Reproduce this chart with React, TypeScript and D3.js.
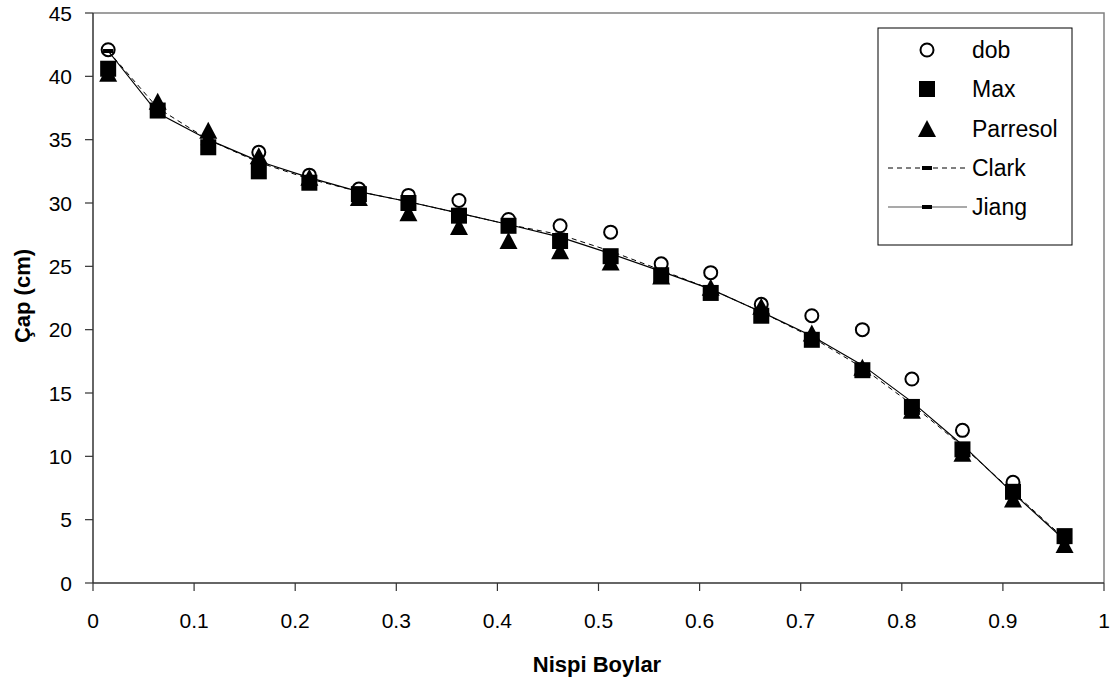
import React, { useEffect, useRef } from "react";
import * as d3 from "d3";

const xValues = [0.015, 0.064, 0.114, 0.164, 0.214, 0.263, 0.312, 0.362, 0.411, 0.462, 0.512, 0.562, 0.611, 0.661, 0.711, 0.761, 0.81, 0.86, 0.91, 0.961];
const dob = [42.1, 37.3, 34.6, 34.0, 32.2, 31.1, 30.6, 30.2, 28.7, 28.2, 27.7, 25.2, 24.5, 22.0, 21.1, 20.0, 16.1, 12.05, 7.95, 3.5];
const maxSeries = [40.6, 37.3, 34.4, 32.5, 31.6, 30.7, 30.0, 29.0, 28.2, 27.0, 25.8, 24.3, 22.9, 21.1, 19.2, 16.8, 13.9, 10.55, 7.2, 3.7];
const parresol = [40.2, 38.0, 35.7, 33.7, 32.0, 30.4, 29.2, 28.1, 27.0, 26.2, 25.3, 24.2, 23.3, 21.8, 19.7, 17.0, 13.6, 10.2, 6.6, 3.0];
const clark = [42.0, 37.5, 35.0, 33.2, 31.9, 30.9, 30.1, 29.2, 28.3, 27.5, 26.2, 24.7, 23.2, 21.4, 19.4, 17.0, 14.1, 10.8, 7.2, 3.5];
const jiang = [42.0, 37.1, 35.0, 33.3, 32.0, 30.9, 30.1, 29.2, 28.3, 27.3, 26.0, 24.6, 23.2, 21.4, 19.5, 17.2, 14.3, 10.9, 7.1, 3.4];
const xTicks = [0, 0.1, 0.2, 0.3, 0.4, 0.5, 0.6, 0.7, 0.8, 0.9, 1];
const yTicks = [0, 5, 10, 15, 20, 25, 30, 35, 40, 45];
const legendNames = ["dob", "Max", "Parresol", "Clark", "Jiang"];
const xTitle = "Nispi Boylar";
const yTitle = "Çap (cm)";

const W = 1118, H = 684;
const L = 93, R = 1104, T = 13, B = 583;
const FONT = "Liberation Sans, Arial, sans-serif";

export default function App() {
  const ref = useRef<SVGSVGElement>(null);
  useEffect(() => {
    const svg = d3.select(ref.current);
    svg.selectAll("*").remove();
    const x = d3.scaleLinear().domain([0, 1]).range([L, R]);
    const y = d3.scaleLinear().domain([0, 45]).range([B, T]);

    svg.append("rect").attr("width", W).attr("height", H).attr("fill", "white");

    svg.append("path").attr("d", `M${L},${T}H${R}V${B}`).attr("fill", "none").attr("stroke", "#808080").attr("stroke-width", 1.5);

    const axG = svg.append("g");
    axG.append("line").attr("x1", L).attr("x2", L).attr("y1", T).attr("y2", B).attr("stroke", "#333").attr("stroke-width", 1.5);
    axG.append("line").attr("x1", L).attr("x2", R).attr("y1", B).attr("y2", B).attr("stroke", "#333").attr("stroke-width", 1.5);
    yTicks.forEach((t) => {
      axG.append("line").attr("x1", L - 8).attr("x2", L).attr("y1", y(t)).attr("y2", y(t)).attr("stroke", "#333").attr("stroke-width", 1.2);
      axG.append("text").attr("x", 72).attr("y", y(t)).attr("dy", "0.36em").attr("text-anchor", "end")
        .attr("font-family", FONT).attr("font-size", 21).attr("fill", "#000").text(String(t));
    });
    xTicks.forEach((t) => {
      axG.append("line").attr("x1", x(t)).attr("x2", x(t)).attr("y1", B).attr("y2", B + 8).attr("stroke", "#333").attr("stroke-width", 1.2);
      axG.append("text").attr("x", x(t)).attr("y", 628).attr("text-anchor", "middle")
        .attr("font-family", FONT).attr("font-size", 21).attr("fill", "#000").text(String(t));
    });

    svg.append("text").attr("x", 597).attr("y", 672).attr("text-anchor", "middle").attr("font-family", FONT)
      .attr("font-size", 22).attr("font-weight", "bold").text(xTitle);
    svg.append("text").attr("transform", `translate(30,${296}) rotate(-90)`).attr("text-anchor", "middle").attr("font-family", FONT)
      .attr("font-size", 22).attr("font-weight", "bold").text(yTitle);

    const g = svg.append("g");
    const circle = (sel: any, cx: number, cy: number) =>
      sel.append("circle").attr("cx", cx).attr("cy", cy).attr("r", 6.5).attr("fill", "white").attr("stroke", "#000").attr("stroke-width", 2);
    const square = (sel: any, cx: number, cy: number) =>
      sel.append("rect").attr("x", cx - 8).attr("y", cy - 8).attr("width", 16).attr("height", 16).attr("fill", "#000");
    const tri = (sel: any, cx: number, cy: number) =>
      sel.append("path").attr("d", `M${cx},${cy - 9}L${cx + 9},${cy + 8}L${cx - 9},${cy + 8}Z`).attr("fill", "#000");
    const dash = (sel: any, cx: number, cy: number) =>
      sel.append("rect").attr("x", cx - 5).attr("y", cy - 2).attr("width", 10).attr("height", 4).attr("fill", "#000");

    xValues.forEach((xv, i) => circle(g, x(xv), y(dob[i])));
    xValues.forEach((xv, i) => square(g, x(xv), y(maxSeries[i])));
    xValues.forEach((xv, i) => tri(g, x(xv), y(parresol[i])));

    const line = d3.line<number>().x((_, i) => x(xValues[i])).y((d) => y(d));
    g.append("path").attr("d", line(clark) as string).attr("fill", "none").attr("stroke", "#000").attr("stroke-width", 1).attr("stroke-dasharray", "5,4");
    xValues.forEach((xv, i) => dash(g, x(xv), y(clark[i])));
    g.append("path").attr("d", line(jiang) as string).attr("fill", "none").attr("stroke", "#000").attr("stroke-width", 1.2);
    xValues.forEach((xv, i) => dash(g, x(xv), y(jiang[i])));

    const lg = svg.append("g");
    lg.append("rect").attr("x", 878).attr("y", 28).attr("width", 194).attr("height", 217).attr("fill", "white").attr("stroke", "#000").attr("stroke-width", 1);
    const ys = [50, 89, 129, 168, 207];
    legendNames.forEach((name, i) => {
      const cy = ys[i];
      if (i === 0) circle(lg, 927, cy);
      if (i === 1) square(lg, 927, cy);
      if (i === 2) tri(lg, 927, cy);
      if (i === 3) {
        lg.append("line").attr("x1", 888).attr("x2", 967).attr("y1", cy).attr("y2", cy).attr("stroke", "#000").attr("stroke-width", 1).attr("stroke-dasharray", "5,4");
        dash(lg, 927, cy);
      }
      if (i === 4) {
        lg.append("line").attr("x1", 888).attr("x2", 967).attr("y1", cy).attr("y2", cy).attr("stroke", "#555").attr("stroke-width", 1.2);
        dash(lg, 927, cy);
      }
      lg.append("text").attr("x", 972).attr("y", cy).attr("dy", "0.36em").attr("font-family", FONT).attr("font-size", 23).text(name);
    });
  }, []);
  return <svg ref={ref} width={W} height={H} style={{ position: "absolute", left: 0, top: 0 }} />;
}
